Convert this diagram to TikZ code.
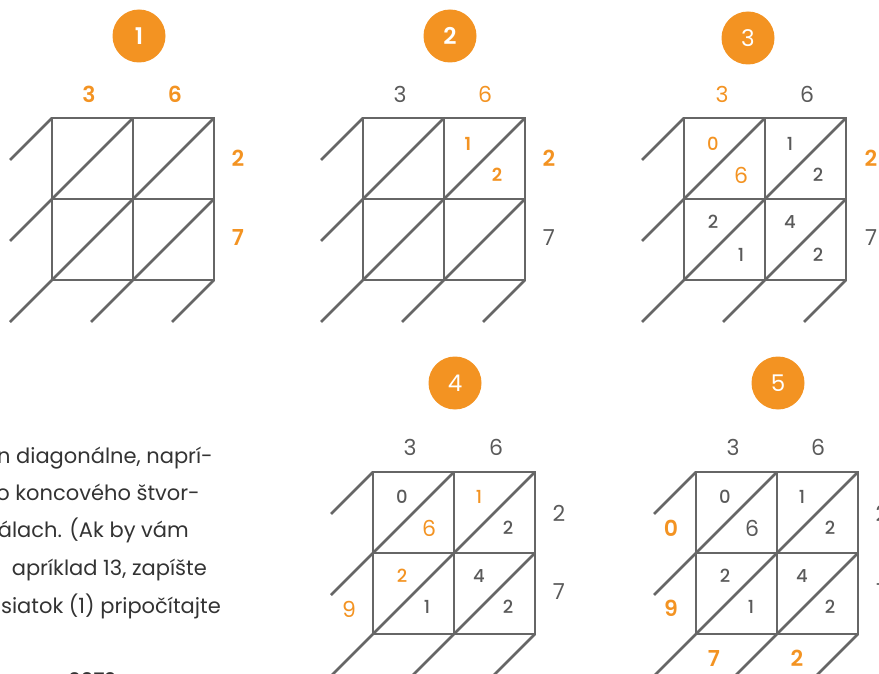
\documentclass[tikz,border=0pt]{standalone}
\usepackage{fontspec}
\setmainfont{Poppins}[BoldFont={Poppins SemiBold}]
\newfontfamily\medfont{Poppins Medium}
\definecolor{orangeacc}{HTML}{F39322}
\definecolor{gridgray}{HTML}{666666}
\definecolor{txtgray}{HTML}{5A5A5A}
\definecolor{bodytext}{HTML}{333333}

% one 2x2 lattice, #1 = name of its top-left corner
\newcommand{\lattice}[1]{%
  \draw[gridline] (#1) rectangle ([shift={(162,162)}]#1);
  \draw[gridline] ([shift={(81,0)}]#1) -- ([shift={(81,162)}]#1);
  \draw[gridline] ([shift={(0,81)}]#1) -- ([shift={(162,81)}]#1);
  \foreach \sx/\sy/\ex/\ey in {0/0/0/0,0/81/81/0,0/162/162/0,81/162/162/81,162/162/162/162}
    \draw[gridline] ([shift={(\sx-42,\sy+42)}]#1) -- ([shift={(\ex,\ey)}]#1);
}

\begin{document}
\begin{tikzpicture}[
  x=1pt,y=-1pt,
  gridline/.style={draw=gridgray,line width=2.7pt},
  badge/.style={circle,fill=orangeacc,minimum size=53pt,inner sep=0pt,
    text=white,font=\fontsize{23}{25}\selectfont},
  badgeb/.style={badge,font=\fontsize{23}{25}\selectfont\bfseries},
  lbl/.style={inner sep=0pt,text=txtgray,font=\fontsize{22}{24}\selectfont},
  lblo/.style={lbl,text=orangeacc},
  lblob/.style={lblo,font=\fontsize{22}{24}\selectfont\bfseries},
  dig/.style={inner sep=0pt,text=txtgray,font=\fontsize{18}{20}\medfont},
  digo/.style={dig,text=orangeacc},
  digob/.style={digo,font=\fontsize{18}{20}\selectfont\bfseries},
  body/.style={inner sep=0pt,anchor=base east,text=bodytext,
    font=\fontsize{21}{24}\selectfont},
]
\useasboundingbox (0,0) rectangle (879,674);

% corners of the five lattices
\coordinate (g1) at (52,118);
\coordinate (g2) at (363,118);
\coordinate (g3) at (684,118);
\coordinate (g4) at (373,472);
\coordinate (g5) at (696,472);
\foreach \g in {g1,g2,g3,g4,g5} {\lattice{\g}}

% step badges
\node[badgeb] (s1) at (139,36) {1};
\node[badgeb] (s2) at (450,36) {2};
\node[badge]  (s3) at (748,38) {3};
\node[badge]  (s4) at (455,383) {4};
\node[badge]  (s5) at (778,383) {5};

% step 1
\node[lblob] (t1a) at ([shift={(37,-24)}]g1) {3};
\node[lblob] (t1b) at ([shift={(123,-24)}]g1) {6};
\node[lblob] (r1a) at ([shift={(186,40)}]g1) {2};
\node[lblob] (r1b) at ([shift={(186,120)}]g1) {7};

% step 2
\node[lbl]   (t2a) at ([shift={(37,-24)}]g2) {3};
\node[lblo]  (t2b) at ([shift={(122,-24)}]g2) {6};
\node[lblob] (r2a) at ([shift={(186,40)}]g2) {2};
\node[lbl]   (r2b) at ([shift={(186,120)}]g2) {7};
\node[digob] (c2u) at ([shift={(105,26)}]g2) {1};
\node[digob] (c2l) at ([shift={(134,57)}]g2) {2};

% step 3
\node[lblo]  (t3a) at ([shift={(38,-24)}]g3) {3};
\node[lbl]   (t3b) at ([shift={(123,-24)}]g3) {6};
\node[lblob] (r3a) at ([shift={(187,40)}]g3) {2};
\node[lbl]   (r3b) at ([shift={(187,120)}]g3) {7};
\node[digo]  (c3a) at ([shift={(29,26)}]g3) {0};
\node[lblo]  (c3b) at ([shift={(57,57)}]g3) {6};
\node[dig]   (c3c) at ([shift={(106,26)}]g3) {1};
\node[dig]   (c3d) at ([shift={(134,57)}]g3) {2};
\node[dig]   (c3e) at ([shift={(29,104)}]g3) {2};
\node[dig]   (c3f) at ([shift={(57,137)}]g3) {1};
\node[dig]   (c3g) at ([shift={(106,104)}]g3) {4};
\node[dig]   (c3h) at ([shift={(134,137)}]g3) {2};

% step 4
\node[lbl]   (t4a) at ([shift={(37,-25)}]g4) {3};
\node[lbl]   (t4b) at ([shift={(123,-25)}]g4) {6};
\node[lbl]   (r4a) at ([shift={(186,41)}]g4) {2};
\node[lbl]   (r4b) at ([shift={(186,120)}]g4) {7};
\node[lblo]  (l4b) at ([shift={(-24,137)}]g4) {9};
\node[dig]   (c4a) at ([shift={(29,25)}]g4) {0};
\node[lblo]  (c4b) at ([shift={(56,56)}]g4) {6};
\node[digo]  (c4c) at ([shift={(106,25)}]g4) {1};
\node[dig]   (c4d) at ([shift={(135,56)}]g4) {2};
\node[digo]  (c4e) at ([shift={(29,104)}]g4) {2};
\node[dig]   (c4f) at ([shift={(54,135)}]g4) {1};
\node[dig]   (c4g) at ([shift={(106,104)}]g4) {4};
\node[dig]   (c4h) at ([shift={(135,135)}]g4) {2};

% step 5
\node[lbl]   (t5a) at ([shift={(37,-25)}]g5) {3};
\node[lbl]   (t5b) at ([shift={(122,-25)}]g5) {6};
\node[lbl]   (r5a) at ([shift={(186,41)}]g5) {2};
\node[lbl]   (r5b) at ([shift={(186,120)}]g5) {7};
\node[lblob] (l5a) at ([shift={(-25,56)}]g5) {0};
\node[lblob] (l5b) at ([shift={(-25,136)}]g5) {9};
\node[lblob] (b5a) at ([shift={(18,186)}]g5) {7};
\node[lblob] (b5b) at ([shift={(101,186)}]g5) {2};
\node[dig]   (c5a) at ([shift={(29,25)}]g5) {0};
\node[lbl]   (c5b) at ([shift={(56,56)}]g5) {6};
\node[dig]   (c5c) at ([shift={(106,25)}]g5) {1};
\node[dig]   (c5d) at ([shift={(134,56)}]g5) {2};
\node[dig]   (c5e) at ([shift={(29,104)}]g5) {2};
\node[dig]   (c5f) at ([shift={(55,135)}]g5) {1};
\node[dig]   (c5g) at ([shift={(106,104)}]g5) {4};
\node[dig]   (c5h) at ([shift={(134,135)}]g5) {2};

% running text, cut at the left edge
\node[body] (p1) at (213,463) {n diagonálne, naprí-};
\node[body] (p2) at (200,500) {o koncového štvor-};
\node[body] (p3) at (189,537) {álach. (Ak by vám};
\node[body] (p4) at (207,575) {apríklad 13, zapíšte};
\node[body] (p5) at (221,613) {siatok (1) pripočítajte};
\node[body,anchor=base,font=\fontsize{20}{24}\selectfont\bfseries] (res) at (92,687) {0972};
\end{tikzpicture}
\end{document}
